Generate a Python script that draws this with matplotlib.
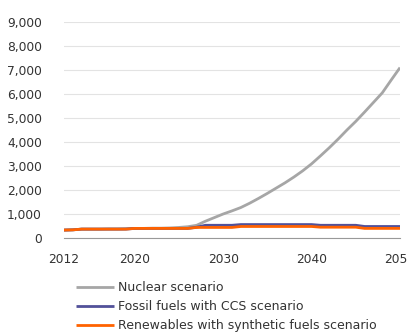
import numpy as np
import matplotlib.pyplot as plt

years = np.arange(2012, 2051)

nuclear = [330, 340, 370, 370, 370, 380, 380, 390, 400, 400,
           410, 410, 420, 440, 470, 530, 700, 850, 1000, 1130,
           1270, 1450, 1650, 1860, 2080, 2300, 2540, 2800, 3090, 3420,
           3760, 4120, 4500, 4860, 5250, 5650, 6050, 6580, 7100]
fossil_ccs = [330, 340, 370, 370, 370, 370, 370, 370, 400, 400,
              400, 400, 400, 400, 400, 450, 530, 530, 530, 530,
              560, 560, 560, 560, 560, 560, 560, 560, 560, 530,
              530, 530, 530, 530, 480, 480, 480, 480, 480]
renewables = [330, 340, 370, 370, 370, 370, 370, 370, 400, 400,
              400, 400, 400, 400, 400, 440, 440, 440, 440, 440,
              480, 480, 480, 480, 480, 480, 480, 480, 480, 450,
              450, 450, 450, 450, 400, 400, 400, 400, 400]

labels = ["Nuclear scenario", "Fossil fuels with CCS scenario",
          "Renewables with synthetic fuels scenario"]
colors = ["#A6A6A6", "#525199", "#FF6200"]

fig = plt.figure(figsize=(4.08, 3.34), dpi=100)
ax = fig.add_axes([64/408, 1-238/334, 336/408, 216/334])

for vals, lab, c in zip([nuclear, fossil_ccs, renewables], labels, colors):
    ax.plot(years, vals, color=c, lw=2.0, label=lab, solid_capstyle="butt")

ax.set_xlim(2012, 2050)
ax.set_ylim(0, 9000)
ax.set_xticks([2012, 2020, 2030, 2040, 2050])
ax.set_yticks(range(0, 9001, 1000))
ax.set_yticklabels([f"{v:,}" for v in range(0, 9001, 1000)])
ax.grid(axis="y", color="#e3e3e3", lw=0.8)
ax.set_axisbelow(True)
for s in ["top", "right", "left"]:
    ax.spines[s].set_visible(False)
ax.spines["bottom"].set_color("#999999")
ax.tick_params(length=0, labelsize=8.8, colors="#333333")
ax.tick_params(axis="y", pad=16)
ax.tick_params(axis="x", pad=11)

fig.legend(loc="upper left", bbox_to_anchor=(76/408, 1-281/334), frameon=False,
           fontsize=9, handlelength=3.0, handletextpad=0.35, labelspacing=0.5,
           borderpad=0, borderaxespad=0, labelcolor="#333333")

fig.savefig("out.png", dpi=100)
